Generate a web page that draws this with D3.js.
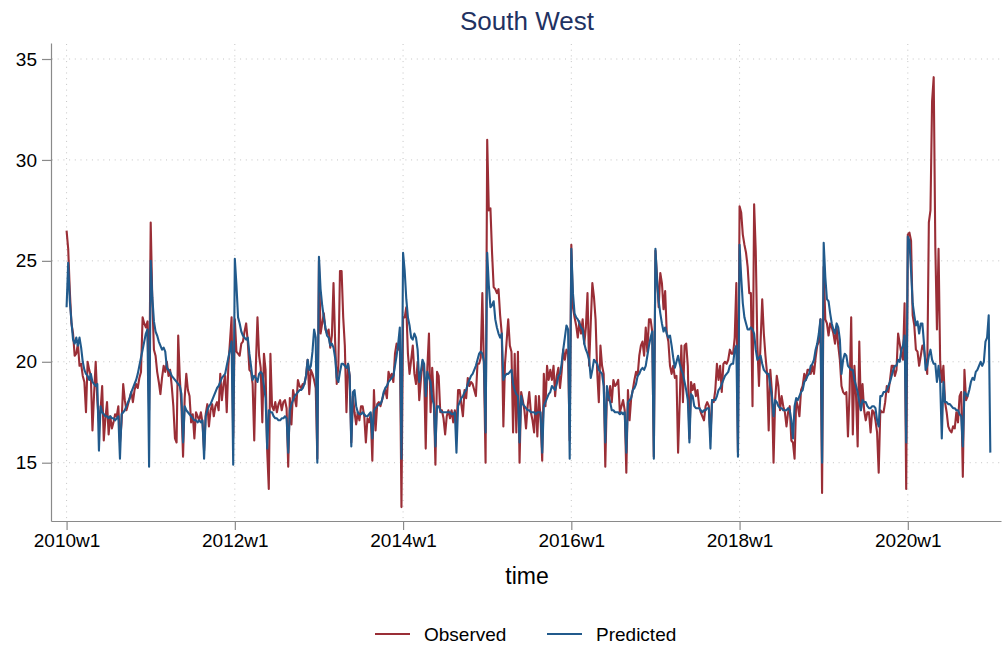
<!DOCTYPE html>
<html lang="en">
<head>
<meta charset="UTF-8">
<title>South West</title>
<script src="https://cdnjs.cloudflare.com/ajax/libs/d3/7.8.5/d3.min.js"></script>
<style>
  body { margin: 0; background: #fff; }
  svg { display: block; font-family: "Liberation Sans", Arial, Helvetica, sans-serif; }
  .grid line { stroke: #c4c4c4; stroke-width: 1; stroke-dasharray: 1 4.7; }
  .axis path, .axis line { stroke: #8a8a8a; stroke-width: 1.2; }
  .axis text { fill: #000; font-size: 19px; }
  .series { fill: none; stroke-width: 2.1; stroke-linejoin: round; }
</style>
</head>
<body>
<svg id="chart" width="1004" height="648"></svg>
<script>
// weekly values, first entry = 2010w1 (52 weeks per year)
const observed = [
  // 2010
  26.5,25.6,23.5,21.9,21.4,20.3,20.4,20.9,19.8,19.9,19.3,19.0,17.5,
  20.0,19.6,19.3,16.6,18.4,20.0,18.1,17.0,17.6,18.8,16.1,17.2,18.0,
  16.4,17.3,16.7,17.0,17.4,17.3,17.8,16.0,17.0,18.9,18.1,17.6,17.9,
  18.2,18.5,18.0,18.6,18.9,18.7,19.2,19.5,22.2,21.9,21.7,22.0,17.6,
  // 2011
  26.9,23.0,20.6,20.3,19.5,19.0,18.4,19.2,19.8,19.5,20.0,19.3,19.6,
  18.8,17.8,16.2,16.0,21.3,19.2,17.8,15.3,18.2,19.4,18.6,18.3,17.0,
  17.4,16.2,17.5,17.3,17.1,17.5,17.0,15.6,17.4,17.9,16.8,17.6,17.9,
  17.3,17.8,18.0,17.6,19.4,18.1,18.9,19.3,17.5,19.8,21.0,22.2,16.3,
  // 2012
  22.1,20.5,20.4,20.3,20.9,21.0,21.5,21.9,21.0,19.6,19.5,18.9,16.1,
  19.8,22.2,20.3,19.7,17.0,20.4,19.6,15.6,13.7,20.4,17.8,17.6,18.0,
  17.5,17.9,18.1,17.6,18.0,18.1,17.7,14.8,18.2,16.9,18.6,18.2,17.8,
  19.1,18.8,18.7,18.9,18.9,19.3,20.1,18.4,19.6,19.4,19.1,18.7,15.2,
  // 2013
  25.0,21.4,21.9,22.4,21.6,21.4,21.6,20.7,21.3,23.9,21.0,18.9,19.8,
  24.5,24.5,22.2,20.8,17.5,19.9,19.3,16.0,18.3,17.5,16.9,17.5,17.1,
  17.8,17.8,17.3,16.0,17.2,17.0,17.4,15.1,18.6,16.6,17.9,18.0,17.8,
  18.1,18.4,18.6,18.2,19.5,19.2,19.4,19.0,20.4,20.9,20.6,21.2,12.8,
  // 2014
  22.2,22.2,22.7,20.4,19.4,20.1,20.8,19.4,18.9,20.0,18.1,19.1,20.0,
  19.5,15.7,19.7,21.4,17.5,19.7,18.2,14.9,19.5,19.3,17.5,17.6,17.2,
  16.4,17.3,17.6,17.2,17.6,17.0,17.6,16.6,18.6,18.6,17.9,17.3,18.6,
  18.2,19.2,18.8,19.0,18.9,18.6,18.3,19.9,19.9,20.2,23.4,19.6,15.0,
  // 2015
  31.0,27.5,27.6,25.4,23.7,23.6,23.4,23.6,22.3,21.4,16.8,19.9,21.0,
  22.1,20.8,20.5,16.5,20.4,16.5,20.5,15.0,18.5,18.1,17.6,16.7,17.8,
  18.5,17.5,17.1,16.5,18.3,16.3,18.3,17.2,15.1,19.4,17.8,19.8,19.1,
  19.6,19.1,19.8,18.3,19.3,19.7,18.7,19.5,20.6,20.1,20.6,20.4,16.1,
  // 2016
  25.8,22.7,22.2,21.8,21.2,22.0,21.4,22.1,20.9,21.7,23.4,19.8,21.9,
  23.9,23.2,22.1,19.5,18.0,20.8,19.8,19.4,14.8,18.5,18.1,18.8,18.0,
  19.1,18.8,18.9,19.1,17.5,17.8,18.1,17.6,14.5,18.6,17.1,18.2,18.6,
  19.1,19.5,19.3,20.3,20.8,21.0,20.3,21.7,20.5,22.1,22.1,21.5,15.3,
  // 2017
  25.5,24.2,22.7,24.4,23.9,22.6,23.5,21.4,21.0,19.8,19.4,19.8,19.2,
  19.3,15.5,18.0,20.8,18.0,20.8,20.9,19.8,16.2,19.0,18.6,18.9,18.3,
  18.6,17.8,17.5,17.3,17.1,17.8,18.0,17.8,16.3,18.1,18.0,18.6,19.9,
  19.1,19.8,18.5,19.9,20.0,19.9,20.1,20.6,20.4,20.4,21.2,23.9,15.5,
  // 2018
  27.7,27.4,26.3,25.8,25.4,24.7,23.4,23.4,17.8,27.8,25.5,20.8,18.8,
  21.0,23.1,21.4,20.3,19.4,16.6,19.6,18.5,15.0,18.1,19.3,18.8,17.6,
  18.3,17.8,17.5,16.8,17.5,17.8,16.1,16.0,15.2,18.1,17.8,17.3,18.6,
  18.8,19.4,19.1,19.6,19.6,19.4,19.8,19.4,20.2,20.8,21.0,22.1,13.5,
  // 2019
  24.7,22.1,21.9,21.3,21.9,21.7,21.4,20.9,21.7,20.8,20.1,18.8,18.5,
  18.4,18.5,16.3,18.5,22.2,16.4,19.8,18.3,15.8,21.0,17.6,18.9,17.6,
  17.1,17.5,17.5,16.5,17.6,17.5,17.1,16.5,14.5,17.6,17.5,17.5,18.0,
  18.8,18.5,19.1,19.8,19.8,19.3,19.6,21.4,20.9,20.4,20.1,22.9,13.7,
  // 2020 (observed stops in week 38)
  26.3,26.4,26.0,22.3,21.8,20.6,20.5,19.8,20.3,20.8,20.6,20.0,19.4,
  26.9,27.5,32.9,34.1,25.7,21.6,25.6,20.0,19.0,19.8,18.0,17.5,16.8,
  16.6,16.5,16.8,16.7,17.5,17.0,18.3,18.5,14.3,19.6,18.1,18.3
];

const predicted = [
  // 2010
  22.7,24.9,23.0,22.0,21.1,20.9,21.2,20.8,21.2,20.7,20.0,19.6,19.4,
  19.3,19.1,19.4,19.0,18.9,18.8,18.9,15.6,17.8,17.5,17.4,17.3,17.3,
  17.2,17.3,17.2,17.2,17.1,17.2,17.3,15.2,17.4,17.5,17.6,17.8,18.0,
  18.2,18.5,18.7,18.9,19.1,19.4,19.8,20.2,20.6,21.0,21.4,21.6,14.8,
  // 2011
  25.0,23.2,22.0,21.5,21.3,21.0,20.8,20.6,20.7,20.5,19.7,19.6,19.5,
  19.3,19.2,19.1,19.0,18.9,18.8,18.4,16.0,17.8,17.6,17.5,17.4,17.3,
  17.2,17.1,17.1,17.0,17.1,17.0,17.1,15.2,17.3,17.6,17.8,17.9,18.1,
  18.3,18.5,18.7,18.8,19.0,19.2,19.3,19.4,19.8,20.2,20.6,21.0,14.9,
  // 2012
  25.1,23.8,22.2,21.9,21.5,21.3,21.2,21.1,21.2,20.4,19.8,19.1,19.3,
  19.2,19.0,19.4,19.5,19.4,18.8,18.2,15.7,17.6,17.5,17.5,17.3,17.2,
  17.2,17.1,17.1,17.2,17.2,17.3,17.2,15.5,17.6,17.9,18.1,18.3,18.4,
  18.5,18.6,18.6,18.7,18.9,19.3,20.1,19.6,19.8,20.5,21.6,21.2,15.0,
  // 2013
  25.2,23.6,22.8,22.2,21.7,21.3,21.2,20.8,20.9,20.7,20.2,19.2,19.0,
  19.5,19.9,19.9,19.8,19.7,19.9,19.3,15.8,18.5,18.6,17.8,17.5,17.4,
  17.4,17.5,17.4,17.3,17.3,17.4,17.5,16.2,17.6,17.7,17.8,17.9,17.9,
  18.1,18.5,18.7,18.8,19.0,19.1,19.2,19.3,19.8,20.3,20.9,21.7,15.2,
  // 2014
  25.4,24.5,23.1,22.2,21.8,21.2,21.1,21.4,21.2,20.6,19.0,19.5,20.1,
  19.9,18.3,19.5,19.2,19.0,18.2,17.9,15.8,17.8,17.8,17.6,17.5,17.5,
  17.5,17.5,17.5,17.5,17.4,17.4,17.5,15.5,17.8,18.0,18.2,18.3,18.5,
  18.6,18.9,19.1,19.3,19.4,19.6,19.8,20.1,20.4,20.5,20.4,20.0,16.5,
  // 2015
  25.4,23.8,22.7,22.8,23.0,22.1,21.7,21.4,21.2,21.4,19.1,19.3,19.4,
  19.4,19.5,19.6,18.9,18.6,18.4,18.3,16.0,18.3,17.9,17.8,17.7,17.6,
  17.6,17.5,17.5,17.5,17.4,17.5,17.5,17.5,15.5,17.8,18.0,18.2,18.4,
  18.5,18.8,18.7,18.6,18.9,19.3,19.4,19.9,20.6,21.2,21.8,21.6,15.2,
  // 2016
  25.6,23.4,22.4,22.2,22.1,21.9,21.7,21.6,20.9,20.6,20.4,20.1,19.2,
  19.6,20.1,20.0,19.9,19.6,19.5,19.4,18.8,16.0,18.8,18.3,18.0,17.6,
  17.6,17.5,17.5,17.5,17.4,17.5,17.4,17.5,15.5,18.0,18.1,18.2,18.6,
  18.7,18.9,19.3,19.4,19.6,19.7,19.6,19.8,20.3,20.8,21.2,21.5,15.2,
  // 2017
  25.6,24.0,23.0,22.4,21.9,21.5,21.7,21.4,21.2,21.3,20.8,20.2,19.7,
  20.0,20.3,19.9,19.6,19.4,19.0,18.6,18.1,16.0,18.4,18.3,17.8,17.7,
  17.7,17.7,17.6,17.5,17.6,17.6,17.7,17.7,15.7,18.1,18.1,18.1,18.3,
  18.6,18.7,18.9,19.1,19.3,19.4,19.5,19.8,19.9,19.9,20.6,20.8,15.3,
  // 2018
  25.8,24.2,22.9,22.2,21.9,21.6,21.6,21.7,21.6,21.4,20.6,20.1,20.2,
  20.3,19.9,19.6,19.5,19.4,19.4,18.8,18.3,17.3,18.1,18.0,17.8,17.7,
  17.7,17.6,17.6,17.6,17.7,17.6,17.1,16.2,17.8,18.2,18.1,18.3,18.5,
  18.6,19.0,19.1,19.3,19.4,19.8,19.9,20.1,20.6,20.9,21.4,22.1,15.0,
  // 2019
  25.9,24.2,23.1,23.0,22.4,21.9,21.6,21.4,21.9,21.7,21.1,19.4,20.1,
  20.4,20.3,19.8,19.7,19.6,19.6,19.1,18.8,18.5,18.0,17.6,18.1,18.0,
  18.0,17.8,17.7,17.7,17.8,17.8,17.7,17.1,16.8,18.3,18.3,18.5,18.5,
  18.6,18.8,19.0,19.3,19.6,19.8,19.8,20.1,20.0,20.6,20.8,21.3,16.0,
  // 2020
  26.2,26.0,24.5,22.9,22.3,21.8,22.0,21.4,21.9,21.9,20.9,19.6,19.8,
  20.3,20.6,20.1,19.9,19.9,19.0,19.8,19.0,16.2,19.0,18.0,18.0,17.9,
  17.9,17.8,17.7,17.7,17.6,17.6,17.4,17.3,15.8,18.5,18.4,18.3,18.6,
  19.0,19.2,19.1,19.5,19.6,19.8,20.0,19.8,20.0,21.0,21.2,22.3,15.5
];

const firstYear = 2010;
const weeksPerYear = 52;
const yTicks = [15, 20, 25, 30, 35];
const xTicks = [0, 104, 208, 312, 416, 520]; // 2010w1 .. 2020w1

const svg = d3.select("#chart");

// plot frame: left axis at x=51, bottom axis at y=521
const x = d3.scaleLinear().domain([-9.63, 577.6]).range([51, 1001]);
const y = d3.scaleLinear().domain([12.112, 35.793]).range([521, 43]);

const weekLabel = i => (firstYear + Math.floor(i / weeksPerYear)) + "w" + (i % weeksPerYear + 1);

// dotted grid
const grid = svg.append("g").attr("class", "grid");
grid.selectAll(".h").data(yTicks).join("line")
  .attr("x1", 52).attr("x2", 1001)
  .attr("y1", d => y(d)).attr("y2", d => y(d));
grid.selectAll(".v").data(xTicks).join("line")
  .attr("x1", d => x(d)).attr("x2", d => x(d))
  .attr("y1", 44).attr("y2", 520);

// axes
svg.append("g").attr("class", "axis")
  .attr("transform", "translate(51,0)")
  .call(d3.axisLeft(y).tickValues(yTicks).tickSize(9).tickSizeOuter(0).tickPadding(5));

svg.append("g").attr("class", "axis")
  .attr("transform", "translate(0,521)")
  .call(d3.axisBottom(x).tickValues(xTicks).tickFormat(weekLabel)
    .tickSize(9).tickSizeOuter(0).tickPadding(4));

// series
const line = d3.line().x((d, i) => x(i)).y(d => y(d));

svg.append("path").datum(observed)
  .attr("class", "series").attr("stroke", "#9a2e36").attr("d", line);
svg.append("path").datum(predicted)
  .attr("class", "series").attr("stroke", "#215a8c").attr("d", line);

// titles
svg.append("text").attr("x", 527).attr("y", 30)
  .attr("text-anchor", "middle").attr("font-size", 26).attr("fill", "#1f3262")
  .text("South West");
svg.append("text").attr("x", 527).attr("y", 584)
  .attr("text-anchor", "middle").attr("font-size", 23).attr("fill", "#000")
  .text("time");

// legend
const legend = [
  { label: "Observed", color: "#9a2e36", x: 375 },
  { label: "Predicted", color: "#215a8c", x: 547 }
];
const lg = svg.selectAll(".legend").data(legend).join("g")
  .attr("transform", d => `translate(${d.x},634)`);
lg.append("line").attr("x1", 0).attr("x2", 35)
  .attr("stroke", d => d.color).attr("stroke-width", 2.1);
lg.append("text").attr("x", 49).attr("y", 7)
  .attr("font-size", 19).attr("fill", "#000")
  .text(d => d.label);
</script>
</body>
</html>
